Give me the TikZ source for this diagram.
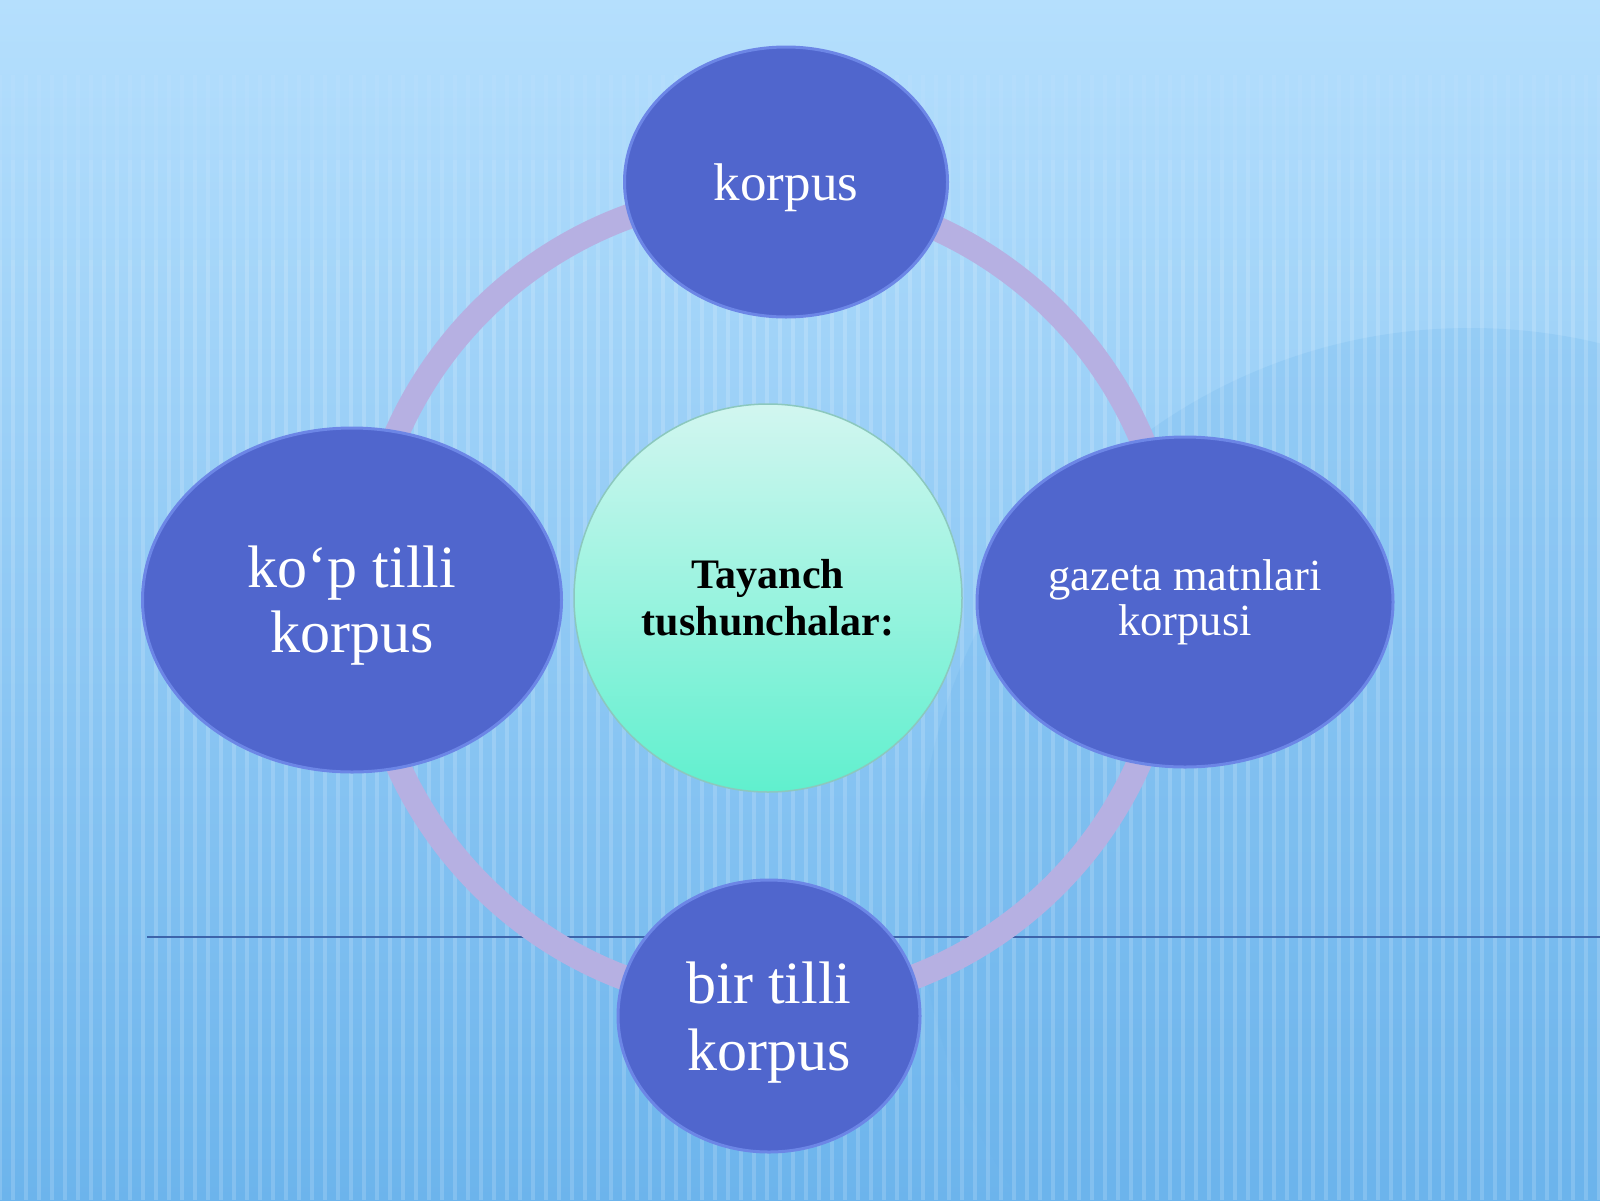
\documentclass[tikz,border=0pt]{standalone}
\usepackage{fontspec}
\setmainfont{Liberation Serif}
\usetikzlibrary{shapes.geometric}
\definecolor{bgtop}{RGB}{181,223,253}
\definecolor{bgmid}{RGB}{160,212,250}
\definecolor{bgbot}{RGB}{108,180,236}
\definecolor{nodeblue}{RGB}{80,102,205}
\definecolor{nodeedge}{RGB}{108,134,230}
\definecolor{ringcol}{RGB}{182,176,226}
\definecolor{minttop}{RGB}{210,246,240}
\definecolor{mintbot}{RGB}{96,240,206}
\definecolor{mintedge}{RGB}{140,200,190}
\definecolor{lineblue}{RGB}{60,100,170}
\begin{document}
\begin{tikzpicture}[x=1pt,y=-1pt,
  bluenode/.style={ellipse, fill=nodeblue, draw=nodeedge, line width=3pt,
    text=white, align=center, inner sep=0pt},
  centernode/.style={circle, top color=minttop, bottom color=mintbot,
    draw=mintedge, line width=1.5pt, text=black, align=center, inner sep=0pt,
    font=\bfseries\fontsize{42}{47}\selectfont},
  ringline/.style={draw=ringcol, line width=25pt},
  stripe/.style={white, line width=4pt},
  hline/.style={draw=lineblue, line width=1.3pt}]
\useasboundingbox (0,0) rectangle (1600,1200);
% background
\shade[top color=bgtop, middle color=bgmid, bottom color=bgbot] (0,0) rectangle (1600,1200);
\begin{scope}
  \clip (0,0) rectangle (1600,1200);
  \fill[bgbot, opacity=0.22] (1470,880) circle[radius=552];
  \foreach \i in {0,...,123} {
    \draw[stripe, opacity=0.05] (\i*13,75) -- (\i*13,160);
    \draw[stripe, opacity=0.10] (\i*13,160) -- (\i*13,260);
    \draw[stripe, opacity=0.16] (\i*13,260) -- (\i*13,1200);
  }
\end{scope}
\draw[hline] (147,937) -- (1600,937);
% nodes
\node[centernode, minimum size=388] (c) at (768,598) {Tayanch\\tushunchalar:};
\draw[ringline] (c.center) circle[radius=406];
\node[bluenode, minimum width=323, minimum height=270,
  font=\fontsize{53}{60}\selectfont] (top) at (786,182) {\rule{0pt}{48pt}korpus};
\node[bluenode, minimum width=419, minimum height=344,
  font=\fontsize{60}{65}\selectfont] (left) at (352,600) {\rule{0pt}{53pt}ko‘p tilli\\korpus};
\node[bluenode, minimum width=416, minimum height=330,
  font=\fontsize{44.5}{45}\selectfont] (right) at (1185,602) {gazeta matnlari\\korpusi};
\node[bluenode, minimum width=302, minimum height=272,
  font=\fontsize{60}{67}\selectfont] (bottom) at (769,1016) {\rule{0pt}{54pt}bir tilli\\korpus};
\end{tikzpicture}
\end{document}
